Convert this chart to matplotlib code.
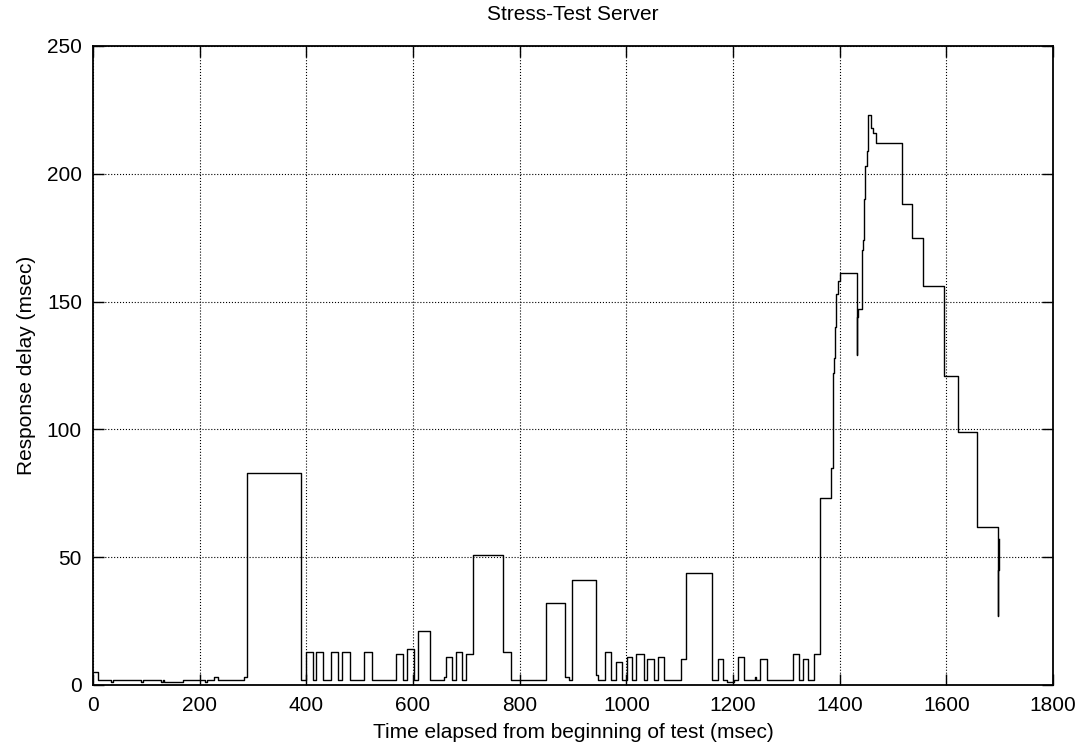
import matplotlib
matplotlib.use('Agg')
import matplotlib.pyplot as plt

plt.rcParams['font.family'] = ['Liberation Sans', 'DejaVu Sans']

# change points (msec) and response delay held until the next change
times = [0, 9, 34, 38, 90, 94, 127, 131, 133, 169, 210, 214, 226, 234, 283, 289,
         389, 399, 413, 418, 432, 446, 460, 467, 481, 508, 523, 568, 581, 589, 602,
         610, 631, 658, 662, 673, 680, 692, 700, 713, 768, 783, 849, 885, 892, 899,
         943, 947, 960, 972, 981, 991, 1001, 1011, 1019, 1033, 1039, 1051, 1059, 1071,
         1102, 1112, 1161, 1171, 1182, 1188, 1201, 1210, 1221, 1241, 1244, 1251, 1263,
         1312, 1324, 1331, 1341, 1351, 1363, 1383, 1387, 1388, 1390, 1392, 1394, 1397,
         1400, 1432, 1433, 1435, 1441, 1444, 1446, 1448, 1451, 1453, 1459, 1463, 1469,
         1516, 1535, 1557, 1596, 1621, 1658, 1696, 1697, 1699]
delay = [5, 2, 1, 2, 1, 2, 1, 2, 1, 2, 1, 2, 3, 2, 3, 83,
         2, 13, 2, 13, 2, 13, 2, 13, 2, 13, 2, 12, 2, 14, 2,
         21, 2, 3, 11, 2, 13, 2, 12, 51, 13, 2, 32, 3, 2, 41,
         4, 2, 13, 2, 9, 2, 11, 2, 12, 2, 10, 2, 11, 2,
         10, 44, 2, 10, 2, 1, 2, 11, 2, 3, 2, 10, 2,
         12, 2, 10, 2, 12, 73, 85, 111, 122, 128, 140, 153, 158,
         161, 129, 144, 147, 170, 174, 190, 203, 209, 223, 218, 216, 212,
         188, 175, 156, 121, 99, 62, 27, 45, 57]

fig = plt.figure(figsize=(10.82, 7.5), dpi=100)
ax = fig.add_axes([0.086, 0.0867, 0.8872, 0.852])

ax.plot(times, delay, drawstyle='steps-post', color='black', linewidth=1.0)

ax.set_xlim(0, 1800)
ax.set_ylim(0, 250)
ax.set_xticks(range(0, 1801, 200))
ax.set_yticks(range(0, 251, 50))
ax.grid(True, linestyle=':', color='black', linewidth=0.8)
ax.tick_params(direction='in', length=8, width=1, top=True, right=True,
               labelsize=15, pad=8)
for s in ax.spines.values():
    s.set_linewidth(1.3)

ax.set_title('Stress-Test Server', fontsize=15, pad=19)
ax.set_xlabel('Time elapsed from beginning of test (msec)', fontsize=15, labelpad=6)
ax.set_ylabel('Response delay (msec)', fontsize=15, labelpad=8)

fig.savefig('out.png', dpi=100)
